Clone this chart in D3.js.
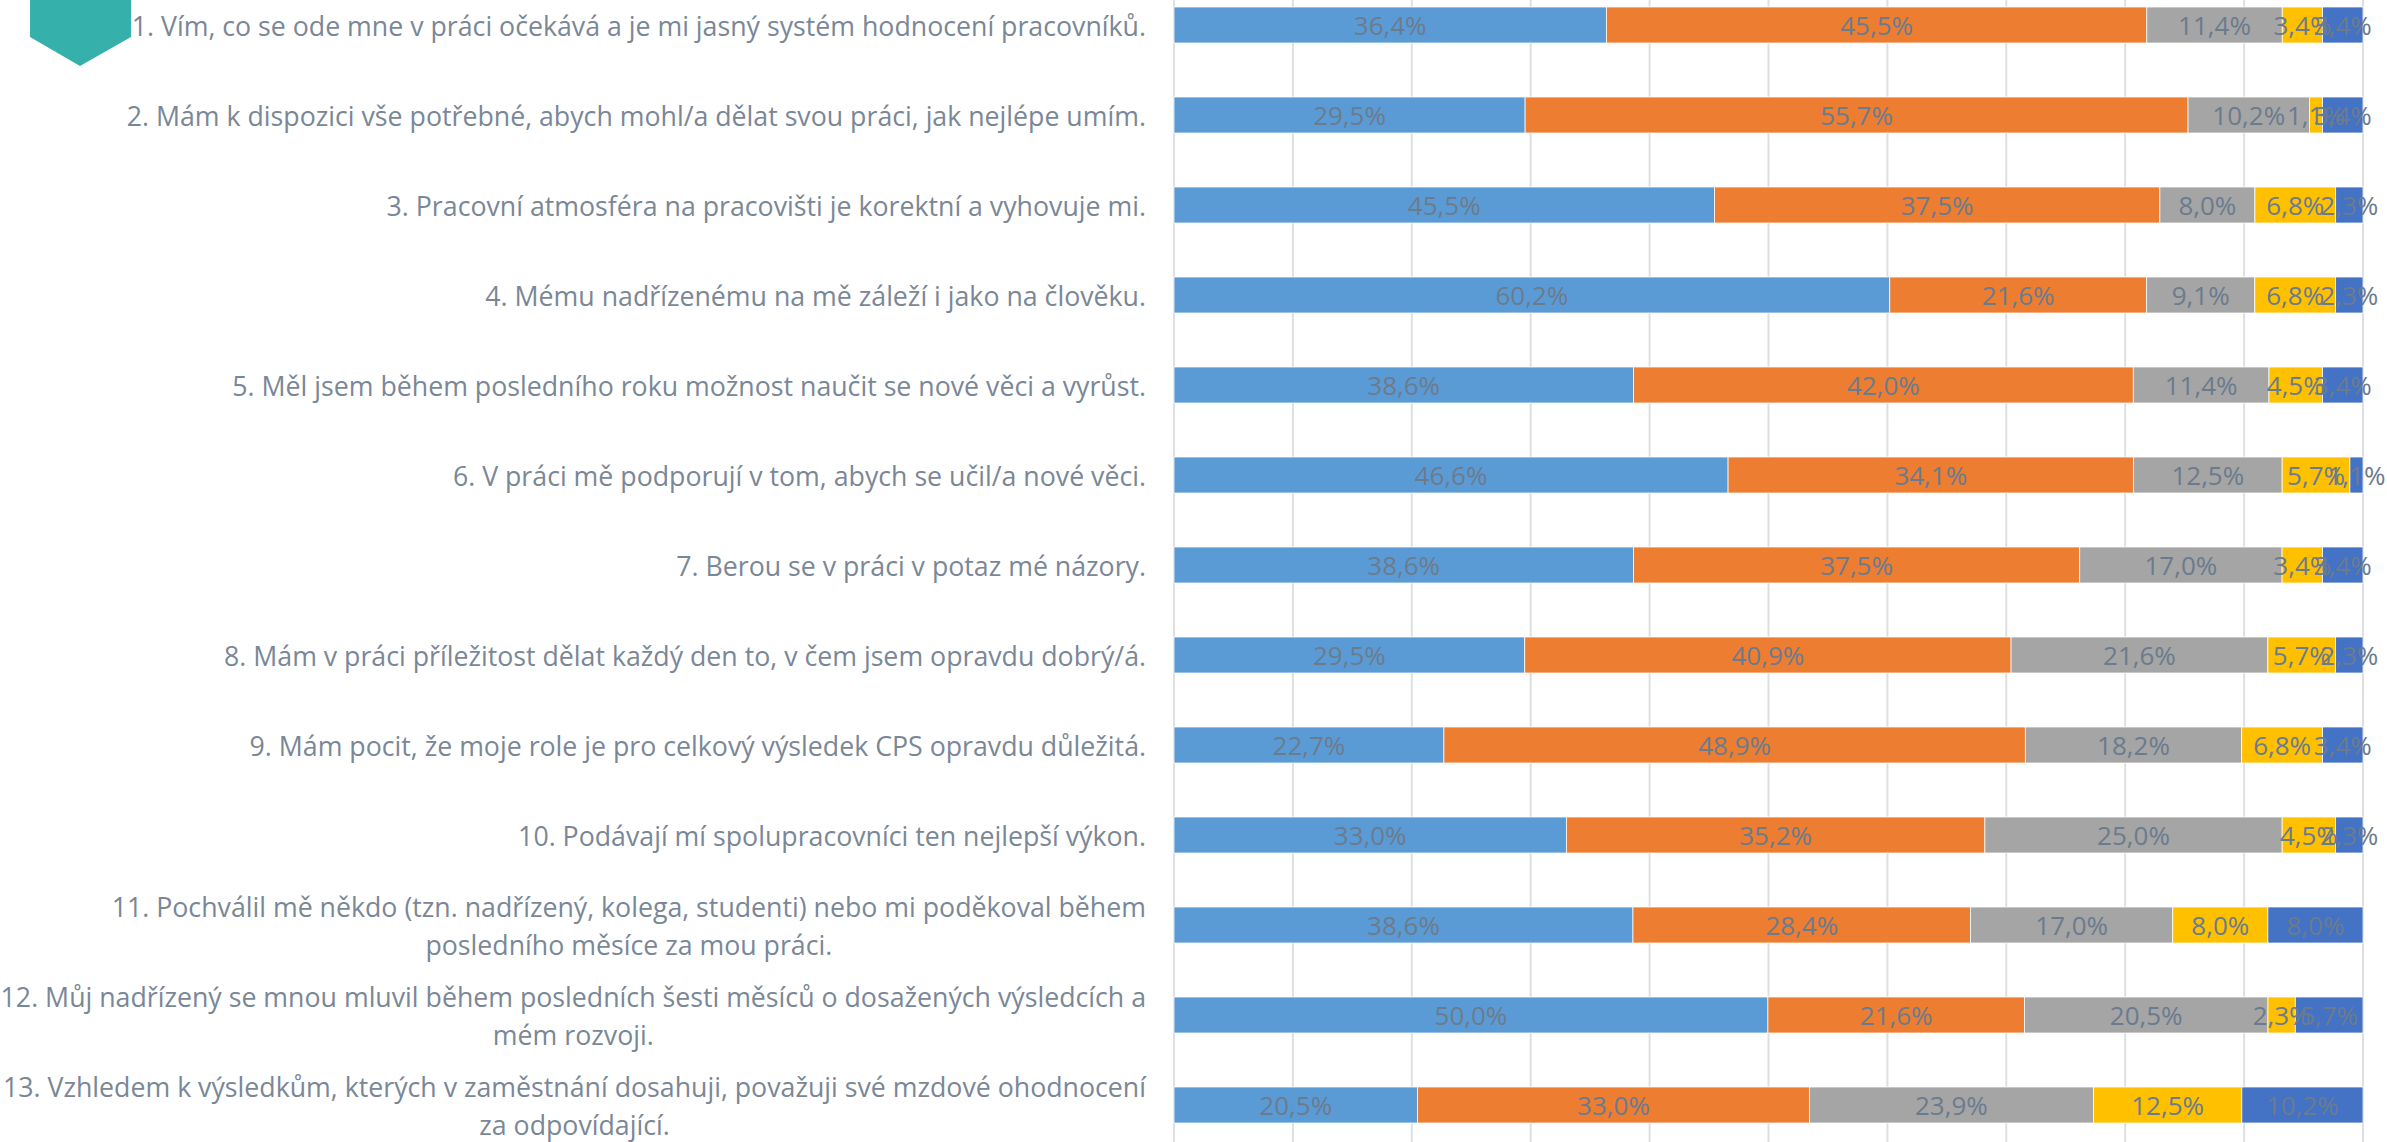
<!DOCTYPE html>
<html>
<head>
<meta charset="utf-8">
<script src="https://cdn.jsdelivr.net/npm/d3@7"></script>
<style>
  html, body { margin: 0; padding: 0; background: #ffffff; }
  svg { display: block; }
</style>
</head>
<body>
<svg id="chart" width="2387" height="1142"></svg>
<script>
// ---- DATA ----
const categories = [
  "1. Vím, co se ode mne v práci očekává a je mi jasný systém hodnocení pracovníků.",
  "2. Mám k dispozici vše potřebné, abych mohl/a dělat svou práci, jak nejlépe umím.",
  "3. Pracovní atmosféra na pracovišti je korektní a vyhovuje mi.",
  "4. Mému nadřízenému na mě záleží i jako na člověku.",
  "5. Měl jsem během posledního roku možnost naučit se nové věci a vyrůst.",
  "6. V práci mě podporují v tom, abych se učil/a nové věci.",
  "7. Berou se v práci v potaz mé názory.",
  "8. Mám v práci příležitost dělat každý den to, v čem jsem opravdu dobrý/á.",
  "9. Mám pocit, že moje role je pro celkový výsledek CPS opravdu důležitá.",
  "10. Podávají mí spolupracovníci ten nejlepší výkon.",
  "11. Pochválil mě někdo (tzn. nadřízený, kolega, studenti) nebo mi poděkoval během\nposledního měsíce za mou práci.",
  "12. Můj nadřízený se mnou mluvil během posledních šesti měsíců o dosažených výsledcích a\nmém rozvoji.",
  "13. Vzhledem k výsledkům, kterých v zaměstnání dosahuji, považuji své mzdové ohodnocení\nza odpovídající."
];
const seriesNames = ["s1", "s2", "s3", "s4", "s5"];
const s1 = [36.4, 29.5, 45.5, 60.2, 38.6, 46.6, 38.6, 29.5, 22.7, 33.0, 38.6, 50.0, 20.5];
const s2 = [45.5, 55.7, 37.5, 21.6, 42.0, 34.1, 37.5, 40.9, 48.9, 35.2, 28.4, 21.6, 33.0];
const s3 = [11.4, 10.2,  8.0,  9.1, 11.4, 12.5, 17.0, 21.6, 18.2, 25.0, 17.0, 20.5, 23.9];
const s4 = [ 3.4,  1.1,  6.8,  6.8,  4.5,  5.7,  3.4,  5.7,  6.8,  4.5,  8.0,  2.3, 12.5];
const s5 = [ 3.4,  3.4,  2.3,  2.3,  3.4,  1.1,  3.4,  2.3,  3.4,  2.3,  8.0,  5.7, 10.2];
const xTicks = [0, 0.1, 0.2, 0.3, 0.4, 0.5, 0.6, 0.7, 0.8, 0.9, 1.0];
const colors = ["#5B9BD5", "#ED7D31", "#A5A5A5", "#FFC000", "#4472C4"];

// ---- BUILD ----
const seriesValues = [s1, s2, s3, s4, s5];
const rows = categories.map((c, i) => {
  const r = { cat: c };
  seriesNames.forEach((k, j) => r[k] = seriesValues[j][i]);
  return r;
});

const svg = d3.select("#chart");
const W = 2387, H = 1142;
const plotLeft = 1174, plotRight = 2363;

const x = d3.scaleLinear().domain([0, 1]).range([plotLeft, plotRight]);
const y = d3.scaleBand().domain(categories).range([-20, 1150]).paddingInner(0.6).paddingOuter(0.3);

const stack = d3.stack().keys(seriesNames).offset(d3.stackOffsetExpand);
const stacked = stack(rows);

// Gridlines
svg.append("g").selectAll("line").data(xTicks).join("line")
  .attr("x1", d => x(d)).attr("x2", d => x(d))
  .attr("y1", 0).attr("y2", H)
  .attr("stroke", "#DEDFE3").attr("stroke-width", 2);

// Decorative teal marker
svg.append("polygon")
  .attr("points", "30,-2 131,-2 131,37 80,66 30,37")
  .attr("fill", "#35B0AA");

// Bars
const gBars = svg.append("g");
stacked.forEach((s, j) => {
  gBars.append("g").selectAll("rect").data(s).join("rect")
    .attr("x", d => x(d[0]))
    .attr("width", d => Math.max(0, x(d[1]) - x(d[0])))
    .attr("y", d => y(d.data.cat))
    .attr("height", y.bandwidth())
    .attr("fill", colors[j])
    .attr("stroke", "#ffffff").attr("stroke-width", 0.75);
});

// Data labels
const fmt = v => v.toFixed(1).replace(".", ",") + "%";
const gLab = svg.append("g")
  .attr("font-family", "'Open Sans', 'Noto Sans', sans-serif")
  .attr("font-size", 26)
  .attr("fill", "#6B7B8E");
stacked.forEach((s, j) => {
  gLab.append("g").selectAll("text").data(s).join("text")
    .attr("x", d => (x(d[0]) + x(d[1])) / 2)
    .attr("y", d => y(d.data.cat) + y.bandwidth() / 2)
    .attr("text-anchor", "middle")
    .attr("dominant-baseline", "central")
    .text((d, i) => fmt(seriesValues[j][i]));
});

// Category labels (right aligned block, lines centred within block)
const labelRight = 1146;
const gCat = svg.append("g")
  .attr("font-family", "'Open Sans', 'Noto Sans', sans-serif")
  .attr("fill", "#7A8797");

// fit font size so label 1 matches reference width
const probe = gCat.append("text").attr("font-size", 24).text(categories[0]);
const probeW = probe.node().getComputedTextLength();
probe.remove();
const catFont = 24 * 1015 / probeW;
gCat.attr("font-size", catFont);
const lineH = 38;

categories.forEach(c => {
  const lines = c.split("\n");
  const t = gCat.append("text").attr("text-anchor", "middle").attr("dominant-baseline", "central");
  const spans = lines.map(l => t.append("tspan").text(l));
  const widths = spans.map(s => s.node().getComputedTextLength());
  const blockW = d3.max(widths);
  const cx = labelRight - blockW / 2;
  const cy = y(c) + y.bandwidth() / 2;
  const n = lines.length;
  spans.forEach((s, k) => {
    s.attr("x", cx).attr("y", cy + (k - (n - 1) / 2) * lineH);
  });
});
</script>
</body>
</html>
